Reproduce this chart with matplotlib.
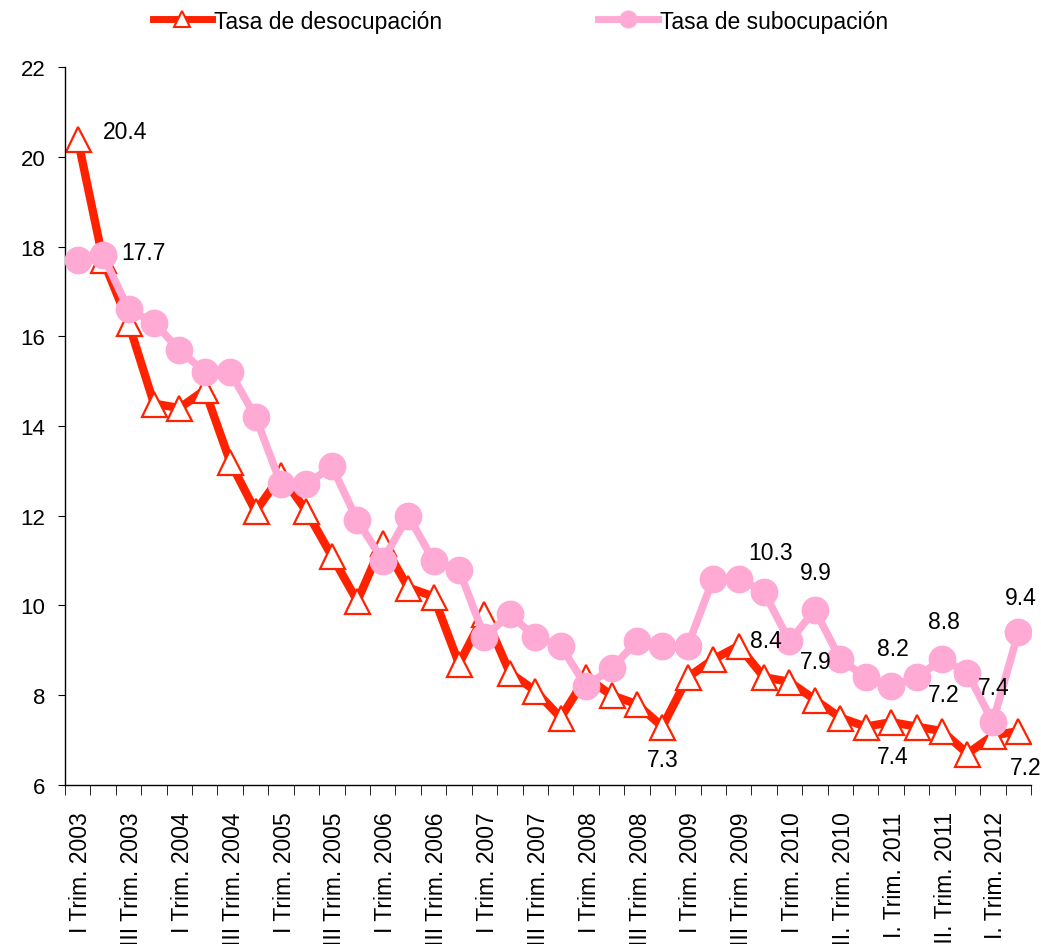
import matplotlib
matplotlib.use('Agg')
import matplotlib.pyplot as plt
from matplotlib.lines import Line2D
import numpy as np

plt.rcParams['font.family'] = ['Liberation Sans', 'DejaVu Sans']

# tick labels (every second quarter)
tick_labels = ['I Trim. 2003', 'III Trim. 2003', 'I Trim. 2004', 'III Trim. 2004',
               'I Trim. 2005', 'III Trim. 2005', 'I Trim. 2006', 'III Trim. 2006',
               'I Trim. 2007', 'III Trim. 2007', 'I Trim. 2008', 'III Trim. 2008',
               'I Trim. 2009', 'III Trim. 2009', 'I Trim. 2010', 'III. Trim. 2010',
               'I. Trim. 2011', 'III. Trim. 2011', 'I. Trim. 2012']

# quarterly rates 2003-I .. 2012-II
desocupacion = [20.4, 17.7, 16.3, 14.5, 14.4, 14.8, 13.2, 12.1, 12.9, 12.1,
                11.1, 10.1, 11.4, 10.4, 10.2, 8.7, 9.8, 8.5, 8.1, 7.5,
                8.4, 8.0, 7.8, 7.3, 8.4, 8.8, 9.1, 8.4, 8.3, 7.9,
                7.5, 7.3, 7.4, 7.3, 7.2, 6.7, 7.1, 7.2]
subocupacion = [17.7, 17.8, 16.6, 16.3, 15.7, 15.2, 15.2, 14.2, 12.7, 12.7,
                13.1, 11.9, 11.0, 12.0, 11.0, 10.8, 9.3, 9.8, 9.3, 9.1,
                8.2, 8.6, 9.2, 9.1, 9.1, 10.6, 10.6, 10.3, 9.2, 9.9,
                8.8, 8.4, 8.2, 8.4, 8.8, 8.5, 7.4, 9.4]

# which points carry a value label, and offset in pixels
labels_deso = [(0, 47, 7), (1, 40, 7), (23, 0, -33), (27, 2, 37), (29, 1, 38),
               (32, 2, -34), (34, 2, 37), (37, 7, -36)]
labels_subo = [(27, 6, 40), (29, 1, 37), (32, 2, 38), (34, 2, 38), (36, 1, 35), (37, 2, 35)]

red = '#FF2200'
pink = '#FFAAD5'

fig = plt.figure(figsize=(10.41, 9.45), dpi=100)
ax = fig.add_axes([0.0624, 0.1683, 0.928, 0.7597])

x = np.arange(len(desocupacion))
ax.plot(x, desocupacion, color=red, lw=6, marker='^', markersize=18,
        markerfacecolor='white', markeredgecolor=red, markeredgewidth=1.6, zorder=2)
ax.plot(x, subocupacion, color=pink, lw=5.5, marker='o', markersize=19,
        markerfacecolor=pink, markeredgecolor=pink, zorder=3)

for i, dx, dy in labels_deso:
    ax.annotate(f'{desocupacion[i]:.1f}', (x[i], desocupacion[i]), xytext=(dx, dy),
                textcoords='offset pixels', ha='center', va='center', fontsize=16.5, zorder=5)
for i, dx, dy in labels_subo:
    ax.annotate(f'{subocupacion[i]:.1f}', (x[i], subocupacion[i]), xytext=(dx, dy),
                textcoords='offset pixels', ha='center', va='center', fontsize=16.5, zorder=5)

ax.set_xlim(-0.5, len(x) - 0.5)
ax.set_ylim(6, 22)
ax.set_yticks(range(6, 23, 2))
ax.tick_params(axis='y', labelsize=16, length=5, direction='out', pad=9)

ax.set_xticks(x[::2] + 0.12)
ax.set_xticklabels(tick_labels, rotation=90, fontsize=16.5)
ax.set_xticks(np.arange(len(x) + 1) - 0.5, minor=True)
ax.tick_params(axis='x', which='major', length=0, pad=19)
ax.tick_params(axis='x', which='minor', length=7, direction='out')

ax.spines['top'].set_visible(False)
ax.spines['right'].set_visible(False)
for s in ['left', 'bottom']:
    ax.spines[s].set_linewidth(1)

handles = [Line2D([], [], color=red, lw=5, marker='^', markersize=11,
                  markerfacecolor='white', markeredgecolor=red, markeredgewidth=1.5),
           Line2D([], [], color=pink, lw=5, marker='o', markersize=12)]
fig.legend(handles, ['Tasa de desocupación', 'Tasa de subocupación'],
           loc='center', bbox_to_anchor=(0.5, 1 - 22 / 945), ncol=2, frameon=False,
           fontsize=16.5, handlelength=2.6, handletextpad=0.1, columnspacing=6.8)

fig.savefig('out.png', dpi=100)
